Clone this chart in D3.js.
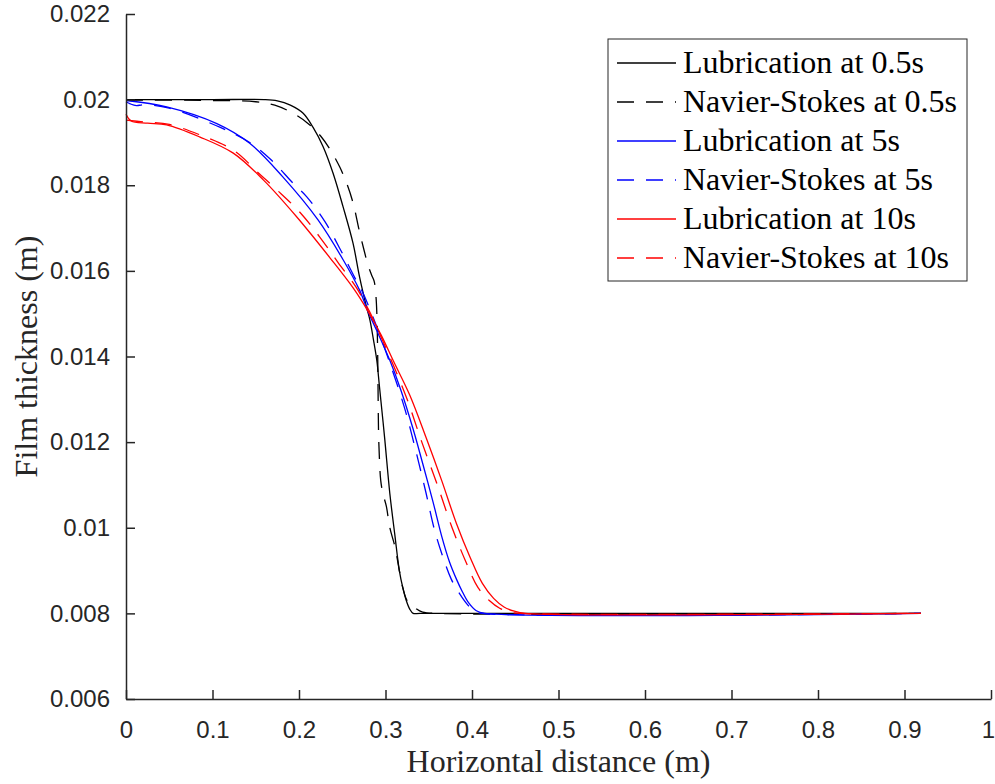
<!DOCTYPE html>
<html>
<head>
<meta charset="utf-8">
<script src="https://cdn.jsdelivr.net/npm/d3@7"></script>
<style>
	body { margin: 0; background: #fff; }
	svg { display: block; }
</style>
</head>
<body>
<div id="chart-area"></div>
<script>
const svgWidth = 995,
			svgHeight = 784;
const margin = {left: 126, right: 4, top: 14, bottom: 85};

const areaWidth = svgWidth - margin.left - margin.right;
const areaHeight = svgHeight - margin.top - margin.bottom;

// [horizontal distance (m), film thickness (m)]
const lub05 = [[0,0.0200],[0.10,0.0200],[0.16,0.0200],[0.175,0.01997],[0.19,0.01987],[0.2048,0.01968],
	[0.2163,0.01935],[0.2279,0.0189],[0.2394,0.01828],[0.2509,0.0175],[0.2625,0.01664],[0.270,0.01586],
	[0.278,0.01516],[0.282,0.01485],[0.286,0.0144],[0.290,0.0139],[0.293,0.0133],[0.299,0.0121],
	[0.305,0.0108],[0.311,0.0098],[0.316,0.0090],[0.320,0.0086],[0.324,0.0083],[0.328,0.0081],
	[0.332,0.0080],[0.34,0.0080],[0.919,0.0080]];
const ns05 = [[0,0.01999],[0.10,0.01998],[0.15,0.01995],[0.172,0.01987],[0.195,0.01966],[0.21,0.01945],
	[0.225,0.01915],[0.237,0.0188],[0.247,0.01843],[0.256,0.0180],[0.263,0.01755],[0.269,0.0170],
	[0.275,0.0165],[0.280,0.01612],[0.284,0.0159],[0.287,0.01575],[0.289,0.0154],[0.290,0.0150],
	[0.291,0.0140],[0.2915,0.0130],[0.292,0.0122],[0.293,0.0116],[0.2945,0.0111],[0.297,0.0108],
	[0.301,0.0105],[0.305,0.0100],[0.311,0.00955],[0.316,0.0090],[0.320,0.0086],[0.325,0.0083],
	[0.330,0.00822],[0.336,0.0081],[0.343,0.00803],[0.36,0.0080],[0.919,0.0080]];
const lub5 = [[0,0.01998],[0.047,0.01983],[0.105,0.01944],[0.143,0.01898],[0.181,0.0182],[0.222,0.01719],
	[0.251,0.01626],[0.270,0.01555],[0.280,0.01504],[0.290,0.0146],[0.305,0.01391],[0.318,0.0132],
	[0.332,0.0123],[0.343,0.0115],[0.355,0.0106],[0.365,0.0098],[0.374,0.0092],[0.382,0.0088],
	[0.389,0.0085],[0.396,0.00825],[0.405,0.00806],[0.415,0.0080],[0.919,0.0080]];
const ns5 = [[0,0.01995],[0.005,0.0199],[0.012,0.01986],[0.02,0.01988],[0.05,0.0198],[0.109,0.01935],
	[0.143,0.0190],[0.168,0.01859],[0.193,0.01805],[0.209,0.01773],[0.230,0.01715],[0.247,0.01653],
	[0.264,0.01586],[0.274,0.01548],[0.290,0.01469],[0.305,0.01385],[0.322,0.0128],[0.335,0.0118],
	[0.347,0.0108],[0.356,0.0100],[0.365,0.0094],[0.376,0.0088],[0.386,0.00845],[0.395,0.0082],
	[0.403,0.00805],[0.412,0.0080],[0.919,0.0080]];
const lub10 = [[0,0.01966],[0.006,0.0195],[0.025,0.01945],[0.047,0.01941],[0.085,0.01913],[0.124,0.01875],
	[0.159,0.01812],[0.197,0.01727],[0.236,0.0163],[0.263,0.01559],[0.280,0.01505],[0.295,0.0145],
	[0.309,0.0139],[0.328,0.0131],[0.347,0.0121],[0.365,0.0111],[0.382,0.0101],[0.398,0.0093],
	[0.412,0.0087],[0.425,0.00835],[0.437,0.00815],[0.449,0.00805],[0.462,0.0080],[0.919,0.0080]];
const ns10 = [[0,0.01952],[0.02,0.01948],[0.05,0.01942],[0.085,0.01918],[0.124,0.01882],[0.155,0.01825],
	[0.174,0.0179],[0.201,0.01737],[0.224,0.01679],[0.245,0.0162],[0.266,0.01562],[0.282,0.01503],
	[0.295,0.01445],[0.309,0.0138],[0.325,0.0130],[0.342,0.0120],[0.360,0.0110],[0.377,0.0100],
	[0.393,0.0092],[0.407,0.0086],[0.420,0.0083],[0.432,0.00812],[0.444,0.00803],[0.456,0.0080],
	[0.919,0.0080]];

const seriesNames = ["Lubrication at 0.5s", "Navier-Stokes at 0.5s", "Lubrication at 5s",
	"Navier-Stokes at 5s", "Lubrication at 10s", "Navier-Stokes at 10s"];
const seriesData = [lub05, ns05, lub5, ns5, lub10, ns10];
const seriesColors = ["#000000", "#000000", "#0000ff", "#0000ff", "#ff0000", "#ff0000"];
const seriesDashed = [false, true, false, true, false, true];

const xTicks = [0, 0.1, 0.2, 0.3, 0.4, 0.5, 0.6, 0.7, 0.8, 0.9, 1];
const xTickLabels = ["0", "0.1", "0.2", "0.3", "0.4", "0.5", "0.6", "0.7", "0.8", "0.9", "1"];
const yTicks = [0.006, 0.008, 0.010, 0.012, 0.014, 0.016, 0.018, 0.020, 0.022];
const yTickLabels = ["0.006", "0.008", "0.01", "0.012", "0.014", "0.016", "0.018", "0.02", "0.022"];

const svg = d3.select("#chart-area")
	.append("svg")
	.attr("width", svgWidth)
	.attr("height", svgHeight);

const area = svg.append("g")
	.attr("transform", `translate(${margin.left}, ${margin.top})`);

const x = d3.scaleLinear().domain([0, 1]).range([0, areaWidth]);
const y = d3.scaleLinear().domain([0.006, 0.022]).range([areaHeight, 0]);

const line = d3.line()
	.x(d => x(d[0]))
	.y(d => y(d[1]))
	.curve(d3.curveCatmullRom.alpha(0.5));

area.selectAll(".series")
	.data(seriesData)
	.enter()
	.append("path")
	.attr("class", "series")
	.attr("fill", "none")
	.attr("stroke", (d, i) => seriesColors[i])
	.attr("stroke-width", 1.3)
	.attr("stroke-dasharray", (d, i) => seriesDashed[i] ? "17,12" : null)
	.attr("d", d => line(d));

// axes, matlab style: ticks inward, no box
const xAxisCall = d3.axisBottom(x)
	.tickValues(xTicks)
	.tickFormat((d, i) => xTickLabels[i])
	.tickSizeInner(-9)
	.tickSizeOuter(0)
	.tickPadding(22);
const yAxisCall = d3.axisLeft(y)
	.tickValues(yTicks)
	.tickFormat((d, i) => yTickLabels[i])
	.tickSizeInner(-9)
	.tickSizeOuter(0)
	.tickPadding(16);

const xAxisGroup = area.append("g")
	.attr("class", "x axis")
	.attr("transform", `translate(0, ${areaHeight})`)
	.call(xAxisCall);
const yAxisGroup = area.append("g")
	.attr("class", "y axis")
	.call(yAxisCall);

area.selectAll(".axis path, .axis line")
	.attr("stroke", "#262626")
	.attr("stroke-width", 1.5);
area.selectAll(".axis text")
	.attr("fill", "#262626")
	.attr("font-family", "'Liberation Sans', Arial, sans-serif")
	.attr("font-size", "24px");

// keep the last x label inside the page
xAxisGroup.selectAll(".tick text")
	.filter(d => d === 1)
	.attr("dx", -3);

svg.append("text")
	.attr("x", margin.left + areaWidth / 2)
	.attr("y", 772)
	.attr("text-anchor", "middle")
	.attr("font-family", "'Liberation Serif', 'Times New Roman', serif")
	.attr("font-size", "32px")
	.attr("fill", "#262626")
	.text("Horizontal distance (m)");

svg.append("text")
	.attr("transform", "rotate(-90)")
	.attr("x", -(margin.top + areaHeight / 2))
	.attr("y", 37)
	.attr("text-anchor", "middle")
	.attr("font-family", "'Liberation Serif', 'Times New Roman', serif")
	.attr("font-size", "32px")
	.attr("fill", "#262626")
	.text("Film thickness (m)");

// legend
const legend = svg.append("g")
	.attr("transform", "translate(608, 39)");

legend.append("rect")
	.attr("width", 359)
	.attr("height", 242)
	.attr("fill", "#fff")
	.attr("stroke", "#262626")
	.attr("stroke-width", 1);

const rows = legend.selectAll(".row")
	.data(seriesNames)
	.enter()
	.append("g")
	.attr("class", "row")
	.attr("transform", (d, i) => `translate(0, ${24 + i * 39})`);

rows.append("line")
	.attr("x1", 9)
	.attr("x2", 68)
	.attr("stroke", (d, i) => seriesColors[i])
	.attr("stroke-width", 1.3)
	.attr("stroke-dasharray", (d, i) => seriesDashed[i] ? "17,12" : null);

rows.append("text")
	.attr("x", 75)
	.attr("y", 10)
	.attr("font-family", "'Liberation Serif', 'Times New Roman', serif")
	.attr("font-size", "32px")
	.attr("fill", "#000")
	.text(d => d);
</script>
</body>
</html>
